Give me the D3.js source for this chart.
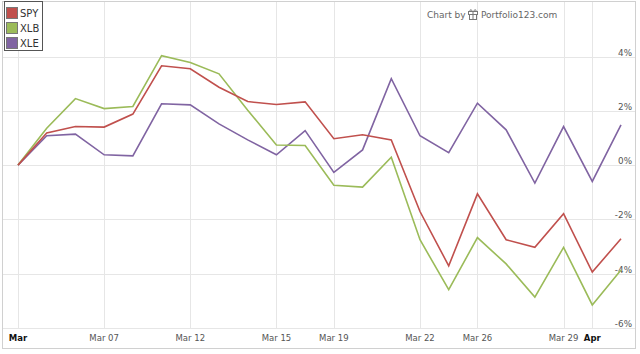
<!DOCTYPE html>
<html>
<head>
<meta charset="utf-8">
<script src="https://cdn.jsdelivr.net/npm/d3@7"></script>
<style>
  body { margin: 0; background: #fff; }
  svg { display: block; font-family: "DejaVu Sans", Verdana, sans-serif; }
</style>
</head>
<body>
<div id="chart"></div>
<script>
// x positions are trading-day slots, only some of them get a label
var tickIndex = [0, 3, 6, 9, 11, 14, 16, 19, 20];
var tickLabels = ["Mar", "Mar 07", "Mar 12", "Mar 15", "Mar 19", "Mar 22", "Mar 26", "Mar 29", "Apr"];
var yTicks = [-6, -4, -2, 0, 2, 4];

var seriesNames = ["SPY", "XLB", "XLE"];
var seriesColors = ["#c0504d", "#9bbb59", "#8064a2"];

var spy = [0, 1.18, 1.42, 1.40, 1.88, 3.66, 3.55, 2.87, 2.34, 2.23, 2.33, 0.97, 1.12, 0.93, -1.71, -3.71, -1.06, -2.75, -3.03, -1.79, -3.94, -2.71];
var xlb = [0, 1.36, 2.45, 2.08, 2.16, 4.03, 3.78, 3.36, 2.02, 0.74, 0.72, -0.74, -0.81, 0.29, -2.75, -4.59, -2.67, -3.64, -4.86, -3.03, -5.15, -3.86];
var xle = [0, 1.08, 1.14, 0.38, 0.34, 2.26, 2.22, 1.52, 0.93, 0.38, 1.27, -0.27, 0.56, 3.18, 1.08, 0.46, 2.28, 1.30, -0.66, 1.42, -0.60, 1.48];

var width = 640, height = 354;
var frame = {left: 2, top: 1, right: 635, bottom: 348};

var svg = d3.select("#chart").append("svg")
    .attr("width", width)
    .attr("height", height);

var x = d3.scaleLinear().domain([0, spy.length - 1]).range([18, 621]);
var y = d3.scaleLinear().domain([-6, 4]).range([328, 56.5]);

// outer frame
svg.append("rect")
    .attr("x", frame.left + 0.5).attr("y", frame.top + 0.5)
    .attr("width", frame.right - frame.left).attr("height", frame.bottom - frame.top)
    .attr("fill", "#fff").attr("stroke", "#d0d0d0");

// vertical grid
svg.append("g").selectAll("line")
    .data(tickIndex)
    .enter().append("line")
    .attr("x1", function(d) { return Math.round(x(d)) + 0.5; })
    .attr("x2", function(d) { return Math.round(x(d)) + 0.5; })
    .attr("y1", frame.top + 1)
    .attr("y2", y(-6))
    .attr("stroke", "#e6e6e6");

// horizontal grid
svg.append("g").selectAll("line")
    .data(yTicks)
    .enter().append("line")
    .attr("x1", frame.left + 1)
    .attr("x2", frame.right)
    .attr("y1", function(d) { return Math.round(y(d)) + 0.5; })
    .attr("y2", function(d) { return Math.round(y(d)) + 0.5; })
    .attr("stroke", "#e6e6e6");

// y labels, sitting just above their grid lines
svg.append("g").selectAll("text")
    .data(yTicks)
    .enter().append("text")
    .attr("x", 632)
    .attr("y", function(d) { return Math.round(y(d)) - 1; })
    .attr("text-anchor", "end")
    .attr("font-size", 8.8)
    .attr("fill", "#555")
    .text(function(d) { return d + "%"; });

// x labels
svg.append("g").selectAll("text")
    .data(tickIndex)
    .enter().append("text")
    .attr("x", function(d) { return x(d); })
    .attr("y", 341)
    .attr("text-anchor", "middle")
    .attr("font-size", 8.5)
    .attr("font-weight", function(d, i) { return tickLabels[i].length == 3 ? "bold" : "normal"; })
    .attr("fill", function(d, i) { return tickLabels[i].length == 3 ? "#111" : "#555"; })
    .text(function(d, i) { return tickLabels[i]; });

// lines
var line = d3.line()
    .x(function(d, i) { return x(i); })
    .y(function(d) { return y(d); });

svg.append("g").selectAll("path")
    .data([xle, xlb, spy])
    .enter().append("path")
    .attr("d", line)
    .attr("fill", "none")
    .attr("stroke-width", 1.6)
    .attr("stroke-linejoin", "miter")
    .attr("stroke", function(d, i) { return seriesColors[2 - i]; });

// legend
var legend = svg.append("g");
legend.append("rect")
    .attr("x", 4.5).attr("y", 1.5)
    .attr("width", 38).attr("height", 49)
    .attr("fill", "#fff").attr("stroke", "#555");

var item = legend.selectAll("g")
    .data(seriesNames)
    .enter().append("g")
    .attr("transform", function(d, i) { return "translate(0," + i * 15 + ")"; });

item.append("rect")
    .attr("x", 6.5).attr("y", 7.5)
    .attr("width", 11).attr("height", 11)
    .attr("fill", function(d, i) { return seriesColors[i]; })
    .attr("stroke", "#777");

item.append("text")
    .attr("x", 20)
    .attr("y", 17)
    .attr("font-size", 10)
    .attr("fill", "#333")
    .text(function(d) { return d; });

// credit
var credit = svg.append("g").attr("fill", "#666").attr("font-size", 9);
credit.append("text").attr("x", 427).attr("y", 18).text("Chart by");
var logo = credit.append("g").attr("transform", "translate(468,9)")
    .attr("fill", "none").attr("stroke", "#777").attr("stroke-width", 1);
logo.append("rect").attr("x", 0.5).attr("y", 2.5).attr("width", 9).attr("height", 3);
logo.append("rect").attr("x", 1.5).attr("y", 5.5).attr("width", 7).attr("height", 5);
logo.append("line").attr("x1", 5).attr("x2", 5).attr("y1", 2).attr("y2", 11);
logo.append("path").attr("d", "M5,2.5 C3,0 1,0.5 2.5,2.5 M5,2.5 C7,0 9,0.5 7.5,2.5");
credit.append("text").attr("x", 481).attr("y", 18).text("Portfolio123.com");
</script>
</body>
</html>
